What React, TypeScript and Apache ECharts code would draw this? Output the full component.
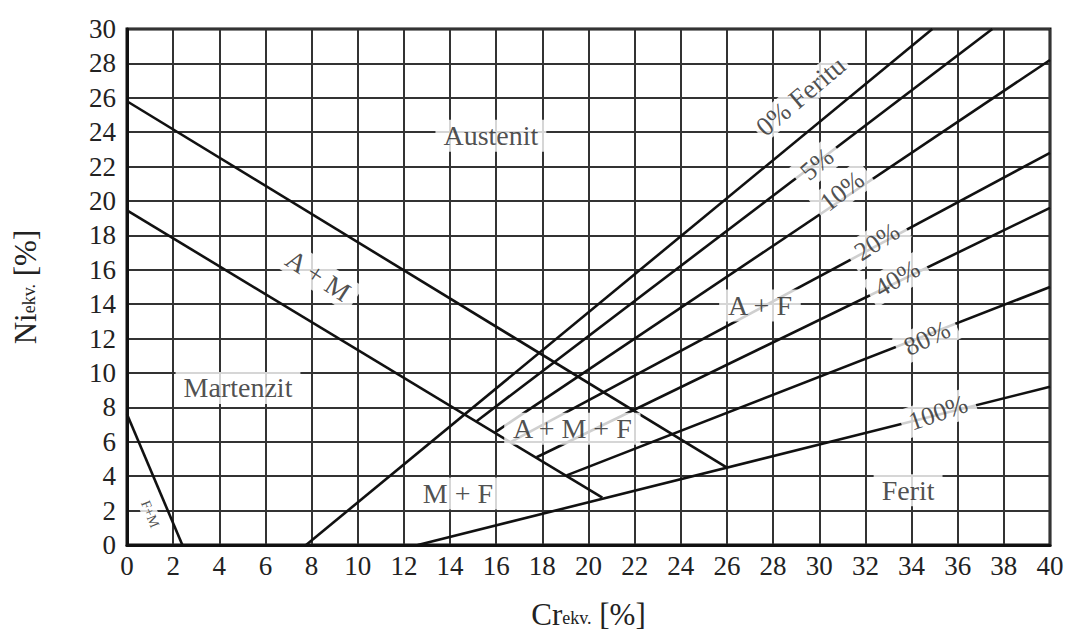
import React, { useEffect, useRef } from "react";
import * as echarts from "echarts";

// Axis ranges / ticks
const X_MIN = 0, X_MAX = 40, X_STEP = 2;
const Y_MIN = 0, Y_MAX = 30, Y_STEP = 2;

// Boundary lines (Cr_ekv, Ni_ekv)
const amUpper = [[0, 25.8], [26, 4.5]];
const amLower = [[0, 19.45], [20.6, 2.75]];
const fmLine = [[0, 7.6], [2.4, 0]];

// Ferrite % lines
const ferrite0 = [[7.76, 0], [34.9, 30]];
const ferrite5 = [[15.15, 7.2], [37.5, 30]];
const ferrite10 = [[15.95, 6.55], [40, 28.2]];
const ferrite20 = [[16.64, 6.0], [40, 22.8]];
const ferrite40 = [[17.75, 5.1], [40, 19.6]];
const ferrite80 = [[19.05, 4.05], [40, 15.0]];
const ferrite100 = [[12.6, 0], [40, 9.2]];

const lineSets = [amUpper, amLower, fmLine, ferrite0, ferrite5, ferrite10, ferrite20, ferrite40, ferrite80, ferrite100];

// Region / percentage labels: text, x, y, rotation
const labelTexts = ["Austenit", "A + M", "A + F", "A + M + F", "M + F", "Martenzit", "Ferit", "F+M", "0% Feritu", "5%", "10%", "20%", "40%", "80%", "100%"];
const labelX = [15.77, 8.28, 27.43, 19.3, 14.34, 4.81, 33.85, 1.0, 29.2, 29.9, 30.99, 32.5, 33.37, 34.67, 35.15];
const labelY = [23.8, 15.66, 13.93, 6.76, 3.0, 9.13, 3.18, 1.8, 26.1, 22.14, 20.58, 17.63, 15.49, 12.02, 7.69];
const labelRot = [0, -33, 0, 0, 0, 0, 0, -68, 40, 40, 38, 33, 30, 26, 19];
const labelSize = [28, 27, 28, 28, 28, 28, 28, 14, 27, 26, 26, 26, 26, 26, 26];

const FONT = "'Liberation Serif', 'DejaVu Serif', serif";

export default function App() {
  const ref = useRef<HTMLDivElement>(null);
  useEffect(() => {
    if (!ref.current) return;
    const chart = echarts.init(ref.current, null, { renderer: "svg" });
    const lineSeries = lineSets.map((d) => ({
      type: "line",
      data: d,
      symbol: "none",
      z: 3,
      lineStyle: { color: "#111", width: 2.6 },
      silent: true,
    }));
    const labelData = labelTexts.map((t, i) => ({
      value: [labelX[i], labelY[i]],
      label: {
        show: true,
        formatter: t,
        rotate: labelRot[i],
        fontSize: labelSize[i],
        padding: labelSize[i] < 20 ? [1, 2] : i === 8 ? [0, 3] : [2, 8],
      },
    }));
    chart.setOption({
      animation: false,
      grid: {
        left: 127,
        top: 29,
        width: 923,
        height: 519,
        show: true,
        borderColor: "#111",
        borderWidth: 3,
        backgroundColor: "#fff",
        containLabel: false,
      },
      xAxis: {
        type: "value",
        min: X_MIN,
        max: X_MAX,
        interval: X_STEP,
        name: "{a|Cr}{b|ekv.}{a| [%]}",
        nameLocation: "middle",
        nameGap: 54,
        nameTextStyle: {
          rich: {
            a: { fontFamily: FONT, fontSize: 31, color: "#222" },
            b: { fontFamily: FONT, fontSize: 18, color: "#222", padding: [6, 0, 0, 0] },
          },
        },
        axisLine: { show: true, lineStyle: { color: "#111", width: 3 } },
        axisTick: { show: false },
        axisLabel: { fontFamily: FONT, fontSize: 27, color: "#222", margin: 7 },
        splitLine: { show: true, lineStyle: { color: "#333", width: 2 } },
      },
      yAxis: {
        type: "value",
        min: Y_MIN,
        max: Y_MAX,
        interval: Y_STEP,
        name: "{a|Ni}{b|ekv.}{a| [%]}",
        nameLocation: "middle",
        nameGap: 86,
        nameRotate: 90,
        nameTextStyle: {
          rich: {
            a: { fontFamily: FONT, fontSize: 31, color: "#222" },
            b: { fontFamily: FONT, fontSize: 18, color: "#222", padding: [6, 0, 0, 0] },
          },
        },
        axisLine: { show: true, lineStyle: { color: "#111", width: 3 } },
        axisTick: { show: false },
        axisLabel: { fontFamily: FONT, fontSize: 27, color: "#222", margin: 11 },
        splitLine: { show: true, lineStyle: { color: "#333", width: 2 } },
      },
      series: [
        ...lineSeries,
        {
          type: "scatter",
          data: labelData,
          symbolSize: 1,
          z: 10,
          silent: true,
          itemStyle: { color: "rgba(0,0,0,0)" },
          label: {
            show: true,
            position: "inside",
            color: "#222",
            fontFamily: FONT,
            backgroundColor: "#fff",
            align: "center",
            verticalAlign: "middle",
          },
        },
      ],
    });
    return () => chart.dispose();
  }, []);
  return (
    <div
      ref={ref}
      style={{ position: "absolute", left: 0, top: 0, width: 1072, height: 635, background: "#fff" }}
    />
  );
}
